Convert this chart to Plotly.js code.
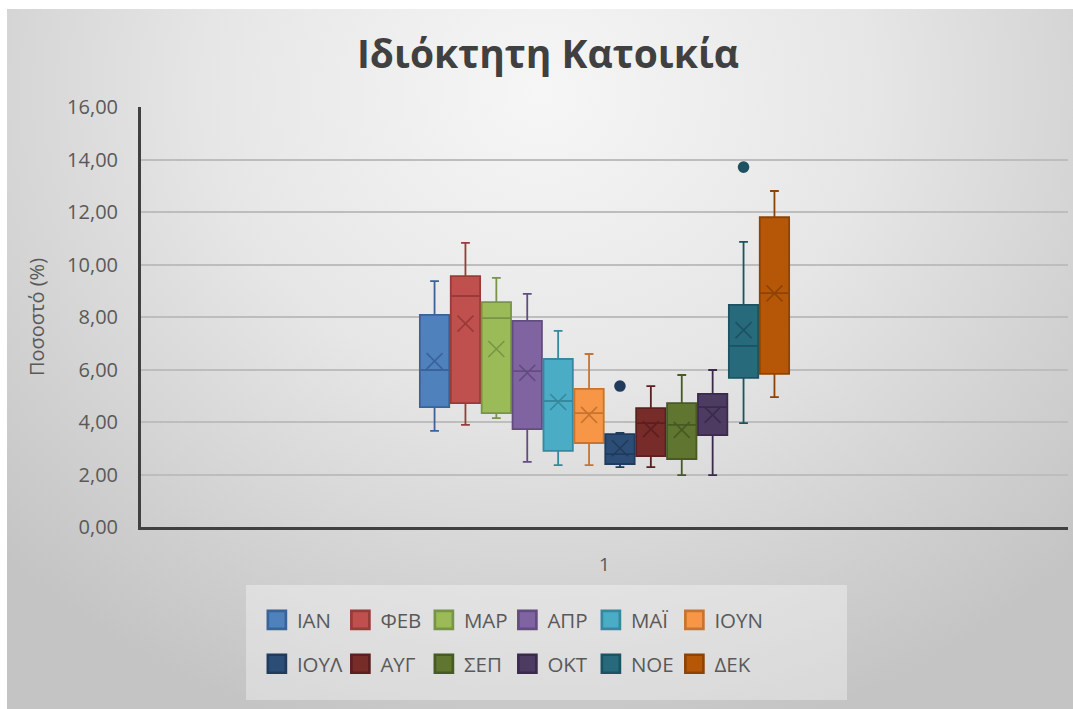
<!DOCTYPE html>
<html>
<head>
<meta charset="utf-8">
<script src="https://cdn.plot.ly/plotly-3.0.1.min.js"></script>
<style>
  html, body { margin: 0; padding: 0; background: #ffffff; }
  #wrap { position: relative; width: 1073px; height: 709px; background: #ffffff; overflow: hidden; }
  #bg { position: absolute; left: 7px; top: 9px; width: 1066px; height: 700px;
        background: radial-gradient(ellipse 70% 95% at 50% 12%, #f6f6f6 0%, #e6e6e6 45%, #d0d0d0 80%, #c4c4c4 100%); }
  #chart { position: absolute; left: 0; top: 0; width: 1073px; height: 709px; }
  #chart .legendpoints path.legendbox { transform: translate(20px, 0px) scale(1.5); }
</style>
</head>
<body>
<div id="wrap"><div id="bg"></div><div id="chart"></div></div>
<script>
// ---- data ----
const months = ['ΙΑΝ', 'ΦΕΒ', 'ΜΑΡ', 'ΑΠΡ', 'ΜΑΪ', 'ΙΟΥΝ', 'ΙΟΥΛ', 'ΑΥΓ', 'ΣΕΠ', 'ΟΚΤ', 'ΝΟΕ', 'ΔΕΚ'];
const xCategory = ['1'];
const lowerWhisker = [3.66, 3.89, 4.15, 2.48, 2.36, 2.36, 2.28, 2.28, 1.98, 1.98, 3.96, 4.95];
const q1Values     = [4.57, 4.72, 4.34, 3.73, 2.90, 3.20, 2.40, 2.70, 2.59, 3.50, 5.68, 5.83];
const medianValues = [5.98, 8.80, 7.96, 5.94, 4.80, 4.34, 2.78, 3.96, 3.89, 4.57, 6.90, 8.91];
const q3Values     = [8.08, 9.56, 8.57, 7.85, 6.40, 5.26, 3.54, 4.53, 4.72, 5.07, 8.46, 11.80];
const upperWhisker = [9.37, 10.82, 9.49, 8.88, 7.47, 6.59, 3.58, 5.37, 5.79, 5.98, 10.86, 12.80];
const meanValues   = [6.32, 7.75, 6.78, 5.87, 4.76, 4.27, 3.00, 3.73, 3.70, 4.27, 7.50, 8.90];
const outlierValues = [[], [], [], [], [], [], [5.37], [], [], [], [13.71], []];

// ---- styling ----
const fillColors = ['#4F81BD', '#C0504D', '#9BBB59', '#8064A2', '#4BACC6', '#F79646',
                    '#2C4D75', '#772C2A', '#5F7530', '#4D3B62', '#276A7C', '#B65708'];
const lineColors = ['#3A639A', '#983B39', '#789446', '#634C80', '#35889E', '#C87430',
                    '#213B5C', '#5A1F1E', '#465A22', '#3A2B4C', '#1C5261', '#8E4306'];
const FONT = 'Open Sans, Noto Sans, sans-serif';

const traces = [];
months.forEach((m, i) => {
  const t = {
    type: 'box',
    name: m,
    x: xCategory,
    q1: [q1Values[i]],
    median: [medianValues[i]],
    q3: [q3Values[i]],
    lowerfence: [lowerWhisker[i]],
    upperfence: [upperWhisker[i]],
    boxpoints: false,
    fillcolor: fillColors[i],
    line: { color: lineColors[i], width: 1.8 },
    whiskerwidth: 0.3,
    legend: i < 6 ? 'legend' : 'legend2',
    hoverinfo: 'skip'
  };
  if (i % 6 === 5) t.legendwidth = 70;
  traces.push(t);
});
months.forEach((m, i) => {
  const ys = [meanValues[i]].concat(outlierValues[i]);
  traces.push({
    type: 'scatter',
    mode: 'markers',
    name: m + ' μέσος',
    x: ys.map(() => xCategory[0]),
    y: ys,
    showlegend: false,
    hoverinfo: 'skip',
    opacity: 1,
    marker: {
      opacity: 1,
      symbol: ys.map((v, k) => k === 0 ? 'x-thin' : 'circle'),
      size: ys.map((v, k) => k === 0 ? 16 : 10),
      color: lineColors[i],
      line: { color: lineColors[i], width: 1.6 }
    }
  });
});

const layout = {
  width: 1073,
  height: 709,
  margin: { l: 141, r: 5, t: 107, b: 182 },
  paper_bgcolor: 'rgba(0,0,0,0)',
  plot_bgcolor: 'rgba(0,0,0,0)',
  separators: ',.',
  font: { family: FONT, color: '#595959', size: 18 },
  title: {
    text: 'Ιδιόκτητη Κατοικία',
    font: { family: FONT, size: 39, color: '#404040', weight: 700 },
    xref: 'container', x: 0.5107, xanchor: 'center',
    yref: 'container', y: 0.924, yanchor: 'middle'
  },
  boxmode: 'group',
  boxgap: 0.6,
  boxgroupgap: 0.05,
  scattermode: 'group',
  scattergap: 0.6,
  showlegend: true,
  xaxis: {
    type: 'category',
    range: [-0.5, 0.5],
    showgrid: false,
    zeroline: false,
    showline: true,
    linecolor: '#404040',
    linewidth: 3,
    ticks: '',
    ticklabelstandoff: 18,
    tickfont: { size: 19, color: '#595959', family: FONT },
    fixedrange: true
  },
  yaxis: {
    range: [0, 16],
    dtick: 2,
    tick0: 0,
    tickformat: '.2f',
    showgrid: true,
    gridcolor: '#bdbdbd',
    gridwidth: 2,
    zeroline: false,
    showline: true,
    linecolor: '#404040',
    linewidth: 3,
    ticks: '',
    ticklabelstandoff: 16,
    tickfont: { size: 20, color: '#595959', family: FONT },
    title: { text: 'Ποσοστό (%)', font: { size: 20, color: '#595959', family: FONT }, standoff: 18 },
    fixedrange: true
  },
  legend: {
    orientation: 'h',
    x: 0.125, xanchor: 'left',
    y: -0.2214, yanchor: 'middle',
    entrywidth: 38.5, entrywidthmode: 'pixels',
    bgcolor: 'rgba(0,0,0,0)',
    font: { size: 20.5, color: '#595959', family: FONT },
    traceorder: 'normal'
  },
  legend2: {
    orientation: 'h',
    x: 0.125, xanchor: 'left',
    y: -0.326, yanchor: 'middle',
    entrywidth: 38.5, entrywidthmode: 'pixels',
    bgcolor: 'rgba(0,0,0,0)',
    font: { size: 20.5, color: '#595959', family: FONT },
    traceorder: 'normal'
  },
  shapes: [{
    type: 'rect', xref: 'paper', yref: 'paper', layer: 'below',
    x0: 0.1133, x1: 0.7616, y0: -0.412, y1: -0.138,
    fillcolor: 'rgba(255,255,255,0.35)', line: { width: 0 }
  }]
};

Plotly.newPlot('chart', traces, layout, { displayModeBar: false, staticPlot: true });
</script>
</body>
</html>
